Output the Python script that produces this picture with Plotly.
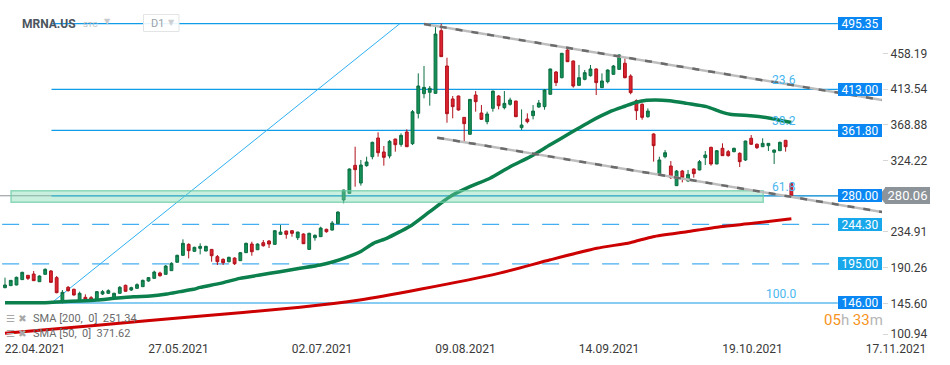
import plotly.graph_objects as go

# ---------------- data ----------------
date_tick_idx = [0, 25, 50, 75, 100, 125, 150]
date_tick_text = ["22.04.2021", "27.05.2021", "02.07.2021", "09.08.2021",
                  "14.09.2021", "19.10.2021", "17.11.2021"]

price_tick_vals = [100.94, 145.60, 190.26, 234.91, 324.22, 368.88, 413.54, 458.19]

open_ = [165.2, 167.7, 168.5, 175.2, 180.6, 182.2, 172.6, 181.8, 186.0, 177.7,
         147.6, 165.6, 163.1, 148.9, 153.1, 152.6, 149.7, 157.2, 158.1, 152.6,
         158.1, 168.1, 162.2, 164.3, 166.4, 173.5, 176.8, 183.5, 181.8, 186.4,
         196.9, 205.6, 219.3, 210.6, 214.3, 211.0, 213.0, 203.9, 200.6, 197.6,
         202.2, 198.9, 208.9, 219.7, 212.6, 221.4, 223.5, 219.3, 231.8, 236.0,
         236.4, 227.6, 232.2, 213.0, 227.6, 228.9, 238.1, 237.2, 245.1, 274.8,
         283.1, 318.1, 296.0, 317.7, 328.9, 352.3, 334.8, 329.8, 351.0, 344.3,
         359.8, 345.2, 383.1, 407.7, 409.4, 408.1, 486.5, 442.3, 401.1, 404.8,
         378.1, 356.9, 406.0, 383.5, 372.7, 389.4, 404.8, 390.2, 394.4, 398.5,
         365.2, 376.0, 380.2, 391.0, 391.5, 406.9, 434.8, 427.7, 462.3, 448.6,
         418.1, 425.6, 430.2, 438.6, 415.2, 422.7, 431.9, 438.1, 445.7, 429.8,
         399.0, 394.4, 378.9, 357.3, 306.0, 328.9, 317.3, 292.7, 311.0, 298.5,
         313.5, 312.3, 327.7, 340.6, 319.8, 339.4, 335.2, 335.2, 333.1, 324.8,
         351.9, 344.4, 341.4, 342.7, 334.4, 336.4, 349.4, 295.6]
high = [177.7, 174.7, 178.9, 185.1, 181.0, 186.0, 180.6, 189.3, 187.2, 179.7,
        162.2, 167.2, 163.9, 160.2, 156.8, 154.7, 161.0, 162.2, 163.1, 158.9,
        167.2, 168.9, 166.4, 170.6, 175.2, 178.5, 186.4, 185.1, 193.5, 196.9,
        206.4, 225.6, 220.6, 216.4, 220.6, 217.6, 213.4, 206.0, 201.8, 203.9,
        203.1, 209.7, 221.4, 222.6, 220.6, 224.7, 224.7, 237.2, 243.5, 236.4,
        237.2, 235.1, 233.1, 233.9, 231.8, 241.4, 238.9, 248.5, 260.6, 287.6,
        314.3, 341.4, 324.8, 328.9, 347.7, 359.4, 342.3, 349.8, 351.4, 358.1,
        363.1, 387.3, 433.1, 442.3, 417.3, 491.5, 495.35, 452.7, 404.8, 405.2,
        378.5, 401.0, 411.0, 393.5, 385.2, 411.4, 406.0, 411.0, 402.7, 398.9,
        388.1, 383.1, 393.5, 399.8, 413.5, 439.0, 436.1, 458.6, 465.2, 449.0,
        443.6, 437.3, 443.6, 439.4, 433.1, 438.1, 443.6, 456.9, 451.9, 431.9,
        400.6, 395.6, 389.4, 358.1, 328.9, 337.3, 323.5, 312.3, 312.3, 312.3,
        314.3, 324.8, 336.0, 341.4, 337.3, 345.6, 337.3, 340.2, 334.4, 348.9,
        356.0, 345.6, 351.9, 346.0, 337.7, 347.7, 349.8, 296.8]
low = [164.3, 167.2, 168.1, 174.7, 174.7, 173.5, 172.2, 181.4, 171.4, 158.1,
       145.5, 160.2, 155.2, 147.6, 148.9, 147.6, 149.3, 156.0, 157.2, 151.8,
       157.6, 160.2, 161.0, 163.9, 166.0, 172.6, 176.4, 178.9, 181.4, 186.0,
       196.4, 204.7, 201.8, 209.8, 206.8, 210.6, 197.6, 193.5, 193.5, 196.8,
       193.5, 198.5, 208.5, 205.1, 212.2, 216.4, 214.7, 218.9, 231.4, 226.4,
       228.9, 224.7, 219.7, 212.6, 223.9, 228.5, 233.9, 236.4, 244.7, 270.6,
       282.7, 291.4, 292.7, 316.4, 325.6, 328.9, 317.7, 326.8, 335.2, 341.4,
       341.0, 343.5, 376.8, 401.9, 392.7, 407.7, 453.6, 371.4, 376.9, 386.5,
       347.7, 356.5, 385.2, 375.2, 369.4, 385.2, 388.1, 388.1, 392.7, 378.5,
       362.3, 370.6, 375.6, 390.2, 387.7, 406.5, 417.3, 426.9, 447.3, 415.2,
       417.7, 424.4, 429.0, 406.0, 414.8, 420.6, 431.1, 437.7, 426.9, 406.9,
       374.8, 375.2, 377.7, 322.7, 305.6, 326.9, 301.0, 292.3, 296.8, 297.7,
       302.7, 311.9, 318.5, 317.7, 319.4, 329.8, 329.0, 334.4, 316.0, 323.5,
       343.5, 338.5, 341.0, 336.0, 319.8, 336.0, 335.2, 279.5]
close = [168.5, 174.3, 178.1, 184.3, 176.8, 173.9, 179.7, 188.1, 171.8, 158.9,
         159.3, 161.4, 156.0, 158.1, 150.1, 149.7, 160.2, 160.2, 161.4, 158.1,
         165.6, 160.6, 165.2, 168.9, 174.3, 177.7, 184.7, 180.1, 192.2, 195.6,
         205.6, 220.6, 211.4, 215.6, 216.8, 216.8, 205.1, 197.6, 196.4, 203.1,
         195.1, 208.9, 220.6, 210.1, 219.7, 217.6, 219.7, 236.4, 234.7, 231.8,
         233.1, 234.7, 220.1, 233.1, 230.6, 239.7, 235.1, 246.0, 259.7, 287.2,
         313.5, 312.7, 318.5, 322.3, 346.9, 333.9, 328.1, 348.1, 343.9, 355.6,
         341.4, 385.2, 417.3, 415.6, 414.4, 482.3, 454.0, 382.7, 391.5, 387.3,
         370.2, 400.6, 397.7, 375.6, 382.3, 411.0, 392.7, 395.6, 399.8, 378.9,
         368.5, 372.7, 386.0, 396.0, 412.3, 438.6, 421.5, 458.2, 447.7, 417.3,
         427.7, 434.0, 438.6, 421.5, 423.6, 437.3, 442.3, 456.1, 427.7, 409.0,
         386.5, 378.1, 386.0, 342.7, 324.8, 333.9, 302.7, 311.0, 302.7, 306.8,
         307.7, 322.7, 331.0, 319.8, 336.4, 330.2, 330.2, 339.4, 322.7, 348.5,
         344.4, 340.2, 345.6, 345.6, 337.3, 346.9, 341.4, 280.06]
bar_idx = list(range(len(close)))

# moving averages read at points along the drawn curves
sma50_idx = [0, 7, 10, 13, 16, 19, 22.4, 25.3, 28.2, 30.5, 32.8, 34, 37.5, 40.9, 44.4,
             47.9, 51.4, 54.9, 57.2, 59.5, 61.9, 64.2, 66.5, 68.8, 70.8, 74.0, 77.5,
             81.0, 84.5, 88.0, 91.5, 94.9, 98.4, 101.9, 105.4, 108, 110, 111.8, 115.8,
             118.8, 122.2, 124.6, 126.3, 130.4, 133.3, 137]
sma50_val = [146.4, 146.4, 147.6, 148.5, 149.7, 151.8, 153.9, 154.7, 157.2, 160.2,
             163.1, 165.5, 170.5, 176.8, 181.0, 185.1, 189.3, 193.5, 197.6, 203.1,
             210.1, 220.6, 226.8, 235.2, 243.0, 260.2, 278.9, 291.4, 301.9, 316.4,
             328.9, 343.5, 358.1, 372.7, 385.2, 392.0, 397.0, 399.4, 399.0, 395.6,
             391.5, 385.2, 381.9, 379.8, 376.9, 371.62]
sma200_idx = [0, 16.6, 31.7, 51.4, 61.8, 72.3, 86, 95, 103.1, 108.9, 112.9, 118.8,
              124.6, 130.3, 137]
sma200_val = [108.1, 118.6, 128.1, 140.6, 149.7, 163.1, 183.0, 200.0, 214.4, 221.4,
              228.9, 235.1, 241.4, 245.6, 251.34]

fib_levels = [495.35, 413.00, 361.80, 280.00, 146.00]
fib_names = ["0.0", "23.6", "38.2", "61.8", "100.0"]
dashed_levels = [244.30, 195.00]
last_price = 280.06

# drawing anchors (bar index, price)
fib_start = (8.1, 146.00)
fib_end = (68.8, 495.35)
upper_channel = [(73.0, 494.8), (152.8, 399.8)]
lower_channel = [(75.3, 352.7), (152.8, 259.8)]
zone = (1.05, 132.1, 271.9, 286.4)

# ---------------- layout constants ----------------
W, H = 950, 365
PLOT_W, PLOT_H = 882, 340
X_RANGE = [-0.871, 152.79]
Y_RANGE = [99.72, 524.83]
LINE_END = 145.1  # where level lines meet their price boxes
FONT = "Roboto, DejaVu Sans, sans-serif"
UNITS_PER_PX = (Y_RANGE[1] - Y_RANGE[0]) / PLOT_H

GREEN = "#0b7f4c"
RED = "#cc0000"
BLUE = "#119ce8"
BOX_BLUE = "#0a87f2"
BOX_LIGHT = "#17a7ea"


def px_x(px):
    return px / PLOT_W


def px_y(py):
    return 1 - py / PLOT_H


# the lowest price label is lifted clear of the date row, as in the source chart
tick_pos = [v + 5 * UNITS_PER_PX if v == min(price_tick_vals) else v for v in price_tick_vals]

fig = go.Figure()

fig.add_trace(go.Candlestick(
    x=bar_idx, open=open_, high=high, low=low, close=close,
    increasing=dict(fillcolor="#149157", line=dict(color="#0c6e43", width=1)),
    decreasing=dict(fillcolor="#dc2430", line=dict(color="#b0121b", width=1)),
    whiskerwidth=0, hoverinfo="skip", showlegend=False,
))
fig.add_trace(go.Scatter(x=sma200_idx, y=sma200_val, mode="lines",
                         line=dict(color=RED, width=3, shape="spline", smoothing=0.6),
                         hoverinfo="skip", showlegend=False))
fig.add_trace(go.Scatter(x=sma50_idx, y=sma50_val, mode="lines",
                         line=dict(color=GREEN, width=3.5, shape="spline", smoothing=0.6),
                         hoverinfo="skip", showlegend=False))

shapes = []
# current price line
shapes.append(dict(type="line", xref="x", yref="y", x0=X_RANGE[0], x1=X_RANGE[1],
                   y0=last_price, y1=last_price, line=dict(color="#8c9399", width=1),
                   layer="below"))
# fib horizontal levels
for lv in fib_levels:
    shapes.append(dict(type="line", xref="x", yref="y", x0=fib_start[0], x1=LINE_END,
                       y0=lv, y1=lv, line=dict(color=BLUE, width=1.2), layer="below"))
# dashed levels
for lv in dashed_levels:
    shapes.append(dict(type="line", xref="x", yref="y", x0=-0.5, x1=LINE_END,
                       y0=lv, y1=lv, line=dict(color="#45aef0", width=1.3, dash="17px,13px"),
                       layer="below"))
# fib diagonal
shapes.append(dict(type="line", xref="x", yref="y", x0=fib_start[0], y0=fib_start[1],
                   x1=fib_end[0], y1=fib_end[1], line=dict(color="#2eb0f2", width=1),
                   layer="below"))
# support zone
shapes.append(dict(type="rect", xref="x", yref="y", x0=zone[0], x1=zone[1],
                   y0=zone[2], y1=zone[3], fillcolor="rgba(120,215,175,0.40)",
                   line=dict(color="rgba(110,205,165,0.75)", width=1.5), layer="above"))
# channel lines
for (a, b) in (upper_channel, lower_channel):
    shapes.append(dict(type="line", xref="x", yref="y", x0=a[0], y0=a[1], x1=b[0], y1=b[1],
                       line=dict(color="#bdbdbd", width=2.5), layer="above"))
    shapes.append(dict(type="line", xref="x", yref="y", x0=a[0], y0=a[1], x1=b[0], y1=b[1],
                       line=dict(color="#6b6b6b", width=2.5, dash="7px,9px"), layer="above"))
# arrow tip of current price box
tip = 8.5 * UNITS_PER_PX
shapes.append(dict(type="path", xref="paper", yref="y",
                   path=f"M {px_x(879)},{last_price} L {px_x(885.5)},{last_price + tip} "
                        f"L {px_x(885.5)},{last_price - tip} Z",
                   fillcolor="#8c9399", line=dict(width=0), layer="above"))
# D1 box in header
shapes.append(dict(type="rect", xref="paper", yref="paper", x0=px_x(143.5), x1=px_x(179),
                   y0=px_y(31.5), y1=px_y(14.5), fillcolor="rgba(255,255,255,0.9)",
                   line=dict(color="#e2e4e6", width=1), layer="above"))

ann = []
# fib percentage labels
for lv, nm in zip(fib_levels[1:], fib_names[1:]):
    ann.append(dict(xref="x", yref="y", x=138.2, y=lv, xanchor="right", yanchor="bottom",
                    text=nm, showarrow=False, font=dict(family=FONT, size=12, color="#4ab6f0")))
# price boxes
for lv in fib_levels + dashed_levels:
    col = BOX_LIGHT if lv in dashed_levels else BOX_BLUE
    ann.append(dict(xref="paper", yref="y", x=px_x(838), y=lv, xanchor="left",
                    yanchor="middle", text=f"{lv:.2f}", showarrow=False, width=40, height=9,
                    borderpad=2, borderwidth=0, bgcolor=col,
                    font=dict(family=FONT, size=12, color="white")))
# current price box
ann.append(dict(xref="paper", yref="y", x=px_x(885), y=last_price, xanchor="left",
                yanchor="middle", text=f"{last_price:.2f}", showarrow=False, width=41,
                height=13, borderpad=2, borderwidth=0, bgcolor="#8c9399",
                font=dict(family=FONT, size=13, color="white")))
# header
ann.append(dict(xref="paper", yref="paper", x=px_x(20), y=px_y(24), xanchor="left",
                yanchor="middle", text="<b>MRNA.US</b>", showarrow=False,
                font=dict(family=FONT, size=12, color="#4b555d")))
ann.append(dict(xref="paper", yref="paper", x=px_x(81), y=px_y(24.5), xanchor="left",
                yanchor="middle", text="STC", showarrow=False,
                font=dict(family=FONT, size=8, color="#b5babf")))
ann.append(dict(xref="paper", yref="paper", x=px_x(102), y=px_y(22), xanchor="left",
                yanchor="middle", text="▼", showarrow=False,
                font=dict(family=FONT, size=8, color="#c8cbce")))
ann.append(dict(xref="paper", yref="paper", x=px_x(149), y=px_y(23.5), xanchor="left",
                yanchor="middle", text="D1", showarrow=False,
                font=dict(family=FONT, size=11, color="#9aa3aa")))
ann.append(dict(xref="paper", yref="paper", x=px_x(166), y=px_y(23), xanchor="left",
                yanchor="middle", text="▼", showarrow=False,
                font=dict(family=FONT, size=8, color="#cdd0d3")))
# indicator legend
for py, txt in ((318, "SMA [200,  0]  251.34"), (333, "SMA [50,  0]  371.62")):
    ann.append(dict(xref="paper", yref="paper", x=px_x(4), y=px_y(py), xanchor="left",
                    yanchor="middle", text="☰ ✖", showarrow=False,
                    font=dict(family="DejaVu Sans", size=10, color="#a8a8a8")))
    ann.append(dict(xref="paper", yref="paper", x=px_x(31), y=px_y(py), xanchor="left",
                    yanchor="middle", text=txt, showarrow=False,
                    font=dict(family=FONT, size=11, color="#6a6a6a")))
# countdown
ann.append(dict(xref="paper", yref="paper", x=px_x(822), y=px_y(320), xanchor="left",
                yanchor="middle", showarrow=False,
                text="<span style='color:#f7941d'>05</span><span style='color:#b5b5b5'>h </span>"
                     "<span style='color:#f7941d'>33</span><span style='color:#b5b5b5'>m</span>",
                font=dict(family=FONT, size=15)))

fig.update_layout(
    width=W, height=H,
    margin=dict(l=0, r=W - PLOT_W, t=0, b=H - PLOT_H, autoexpand=False),
    paper_bgcolor="white", plot_bgcolor="white",
    shapes=shapes, annotations=ann, showlegend=False,
    xaxis=dict(range=X_RANGE, tickvals=date_tick_idx, ticktext=date_tick_text,
               ticks="", ticklabelshift=30, showgrid=False, zeroline=False,
               showline=False, rangeslider=dict(visible=False),
               tickfont=dict(family=FONT, size=12, color="#3a3a3a")),
    yaxis=dict(range=Y_RANGE, side="right", tickvals=tick_pos,
               ticktext=[f"{v:.2f}" for v in price_tick_vals],
               ticks="outside", ticklen=5, tickcolor="#d6d6d6", showgrid=False,
               zeroline=False, showline=False,
               tickfont=dict(family=FONT, size=12, color="#3a3a3a")),
)

fig.write_html("out.html", config={"displayModeBar": False},
               post_script="document.body.style.margin='0';document.body.style.padding='0';")
